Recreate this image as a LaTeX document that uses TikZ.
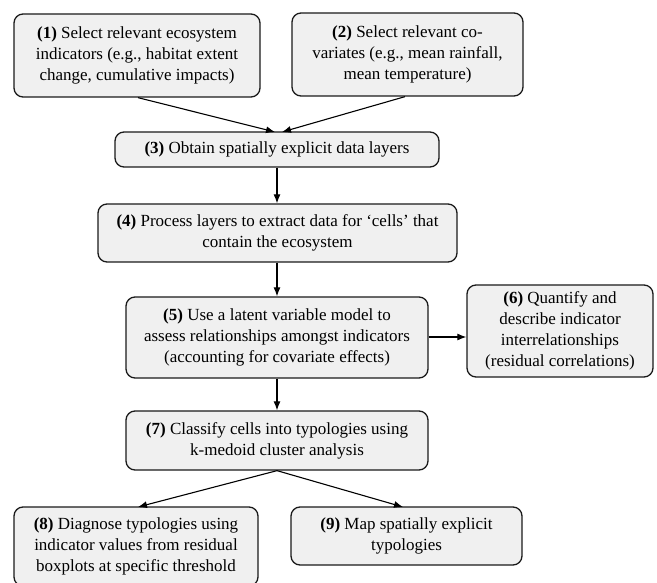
\documentclass[tikz,border=0pt]{standalone}
\usepackage{fontspec}
\setmainfont{Liberation Serif}
\usetikzlibrary{arrows.meta}
\definecolor{boxfill}{HTML}{F0F0F0}
\definecolor{boxline}{HTML}{1A1A1A}
\tikzset{
  stepbox/.style={draw=boxline, line width=1.3pt, fill=boxfill, rounded corners=9pt,
    align=center, inner sep=0pt, font=\fontsize{17}{21}\selectfont},
  conn/.style={draw=black, line width=1.1pt, -{Latex[length=9pt,width=7pt]}},
}
\begin{document}
\begin{tikzpicture}[x=1pt,y=-1pt]
\useasboundingbox (0,0) rectangle (657,583);
\node[stepbox, minimum width=246pt, minimum height=83pt] (b1) at (137,55.5)
  {\textbf{(1)} Select relevant ecosystem\\indicators (e.g., habitat extent\\change, cumulative impacts)};
\node[stepbox, minimum width=231pt, minimum height=83pt] (b2) at (407.5,54.5)
  {\textbf{(2)} Select relevant co-\\variates (e.g., mean rainfall,\\mean temperature)};
\node[stepbox, minimum width=324pt, minimum height=35pt] (b3) at (277,149.5)
  {\textbf{(3)} Obtain spatially explicit data layers};
\node[stepbox, minimum width=359pt, minimum height=58pt] (b4) at (277.5,233)
  {\textbf{(4)} Process layers to extract data for `cells' that\\contain the ecosystem};
\node[stepbox, minimum width=302pt, minimum height=81pt] (b5) at (277,337.5)
  {\textbf{(5)} Use a latent variable model to\\assess relationships amongst indicators\\(accounting for covariate effects)};
\node[stepbox, minimum width=186pt, minimum height=92pt] (b6) at (560,331)
  {\textbf{(6)} Quantify and\\describe indicator\\interrelationships\\(residual correlations)};
\node[stepbox, minimum width=302pt, minimum height=59pt] (b7) at (277,440.5)
  {\textbf{(7)} Classify cells into typologies using\\k-medoid cluster analysis};
\node[stepbox, minimum width=244pt, minimum height=79pt] (b8) at (136,546.5)
  {\textbf{(8)} Diagnose typologies using\\indicator values from residual\\boxplots at specific threshold};
\node[stepbox, minimum width=231pt, minimum height=58pt] (b9) at (406.5,536)
  {\textbf{(9)} Map spatially explicit\\typologies};
\coordinate (t31) at (275,132);
\coordinate (t32) at (282,132);
\draw[conn] (b1.south -| 138,0) -- (t31);
\draw[conn] (b2.south -| 405,0) -- (t32);
\draw[conn] (b3.south -| 277,0) -- (b4.north -| 277,0);
\draw[conn] (b4.south -| 277,0) -- (b5.north -| 277,0);
\draw[conn] (b5.east |- 0,337) -- (b6.west |- 0,337);
\draw[conn] (b5.south -| 277,0) -- (b7.north -| 277,0);
\coordinate (t8) at (138,507);
\coordinate (t9) at (403,507);
\draw[conn] (b7.south) -- (t8);
\draw[conn] (b7.south) -- (t9);
\end{tikzpicture}
\end{document}
